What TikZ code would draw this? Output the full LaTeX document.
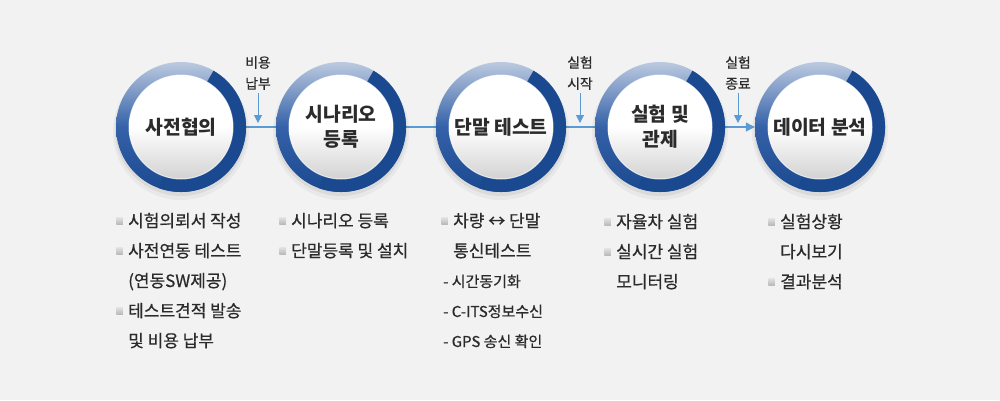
\documentclass[tikz,border=0pt]{standalone}
\usepackage{fontspec}
\setmainfont{Noto Sans CJK KR}
\newfontfamily\listfont{Noto Sans CJK KR}[FakeBold = 0.6]
\usepackage{xcolor}
\usetikzlibrary{calc, arrows.meta, backgrounds}

\definecolor{bgGray}{HTML}{F2F2F2}
\definecolor{linkBlue}{HTML}{5B9BD5}
\definecolor{ringTop}{HTML}{BCCAE0}
\definecolor{ringMid}{HTML}{3461A8}
\definecolor{ringDark}{HTML}{1B4990}
\definecolor{discGray}{HTML}{D2D2D2}
\definecolor{txtDark}{HTML}{2B2B2B}

\tikzset{
	stepname/.style = {circle, minimum size = 130pt, inner sep = 0pt, align = center, text = txtDark, font = \fontsize{19.3}{25}\selectfont\bfseries},
	flag/.style = {align = center, text = txtDark, font = \listfont\fontsize{13.8}{21}\selectfont},
	link/.style = {linkBlue, line width = 1.1pt},
	pointer/.style = {linkBlue, line width = 1pt, -{Triangle[width = 8pt, length = 8pt]}},
	item/.style = {anchor = west, inner sep = 0pt, text height = 12.5pt, text depth = 0.5pt, text = txtDark, font = \listfont\fontsize{17}{20}\selectfont},
	subitem/.style = {item, font = \listfont\fontsize{15}{18}\selectfont},
	bulletsq/.style = {rectangle, inner sep = 0pt, minimum size = 6.5pt, top color = gray!25, bottom color = gray!55},
	bulleted/.style = {label = {[bulletsq, label distance = 5pt]left:{}}}
}

\begin{document}
\begin{tikzpicture}[x = 1pt, y = -1pt]
		\def\rOut{65pt};
		\def\rIn{52pt};

		\useasboundingbox (0,0) rectangle (1000,400);

		\foreach \i/\x in {1/181, 2/341, 3/501, 4/660, 5/820}
			\coordinate (p\i) at (\x,127);

		\foreach \i in {1,...,5} {
			\fill [black, opacity = 0.04] ($ (p\i) + (0,-5pt) $) circle (68pt);
			\fill [black, opacity = 0.06] ($ (p\i) + (0,-3pt) $) circle (66pt);
			\shade [top color = ringTop, bottom color = ringDark, middle color = ringMid] (p\i) circle (\rOut);
			\fill [ringDark] ($ (p\i) + (60:\rOut) $) arc [start angle = 60, end angle = -110, radius = \rOut]
				-- ($ (p\i) + (-110:\rIn) $) arc [start angle = -110, end angle = 60, radius = \rIn] -- cycle;
			\shade [top color = white, bottom color = discGray, middle color = white] (p\i) circle (\rIn);
			\draw [white, opacity = 0.7, line width = 1pt] (p\i) circle (\rIn);
		}

		\node [stepname] (c1) at (p1) {사전협의};
		\node [stepname] (c2) at (p2) {시나리오\\등록};
		\node [stepname] (c3) at (p3) {단말 테스트};
		\node [stepname] (c4) at (p4) {실험 및\\관제};
		\node [stepname] (c5) at (p5) {데이터 분석};

		\node [flag] (f1) at (258,73) {비용\\납부};
		\node [flag] (f2) at (580,73) {실험\\시작};
		\node [flag] (f3) at (738,73) {실험\\종료};

		\coordinate (d1) at (258,123);
		\coordinate (d2) at (580,123);
		\coordinate (d3) at (738,123);

		\draw [pointer] (f1) -- (d1);
		\draw [pointer] (f2) -- (d2);
		\draw [pointer] (f3) -- (d3);

		\begin{pgfonlayer}{background}
			\fill [bgGray] (0,0) rectangle (1000,400);
			\draw [link] (c1) -- (c2);
			\draw [link] (c2) -- (c3);
			\draw [link] (c3) -- (c4);
			\draw [link, -{Triangle[width = 9pt, length = 9pt]}] (c4) -- (c5);
		\end{pgfonlayer}

		\node [item, bulleted] (pre1) at (128,221) {시험의뢰서 작성};
		\node [item, bulleted] (pre2) at (128,251) {사전연동 테스트};
		\node [item] (pre3) at (128,281) {(연동SW제공)};
		\node [item, bulleted] (pre4) at (128,311) {테스트견적 발송};
		\node [item] (pre5) at (128,341) {및 비용 납부};

		\node [item, bulleted] (scn1) at (291,221) {시나리오 등록};
		\node [item, bulleted] (scn2) at (291,251) {단말등록 및 설치};

		\node [item, bulleted] (dev1) at (453,221) {차량 ↔ 단말};
		\node [item] (dev2) at (453,251) {통신테스트};
		\node [subitem] (dev3) at (443,281) {- 시간동기화};
		\node [subitem] (dev4) at (443,311) {- C-ITS정보수신};
		\node [subitem] (dev5) at (443,341) {- GPS 송신 확인};

		\node [item, bulleted] (exp1) at (616,222) {자율차 실험};
		\node [item, bulleted] (exp2) at (616,252) {실시간 실험};
		\node [item] (exp3) at (616,282) {모니터링};

		\node [item, bulleted] (ana1) at (780,222) {실험상황};
		\node [item] (ana2) at (780,252) {다시보기};
		\node [item, bulleted] (ana3) at (780,282) {결과분석};
	\end{tikzpicture}
\end{document}
